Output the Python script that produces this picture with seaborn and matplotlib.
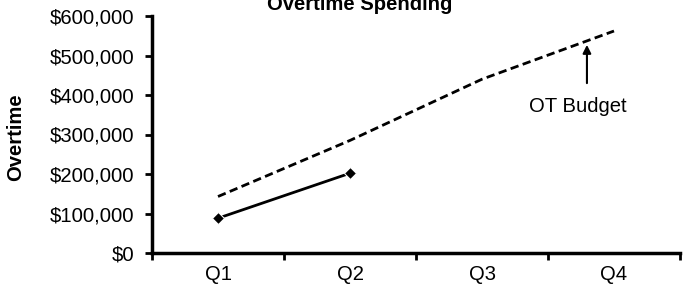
import matplotlib
matplotlib.use("Agg")
import matplotlib.pyplot as plt
import matplotlib.ticker as mticker
import seaborn as sns
import pandas as pd

quarters = ["Q1", "Q2", "Q3", "Q4"]
budget = [143000, 285000, 440000, 562000]
actual_quarters = ["Q1", "Q2"]
actual = [88000, 202000]
title = "Overtime Spending"
ylabel = "Overtime"
annot = "OT Budget"

sns.set_theme(style="white")
plt.rcParams["font.family"] = ["Liberation Sans", "DejaVu Sans"]
plt.rcParams["text.color"] = "black"
plt.rcParams["xtick.color"] = "black"
plt.rcParams["ytick.color"] = "black"
plt.rcParams["axes.labelcolor"] = "black"

FS = 14.6

fig = plt.figure(figsize=(6.89, 2.89), dpi=100)
ax = fig.add_axes([152/689, 1-253/289, 528/689, 237/289])

df_b = pd.DataFrame({"q": quarters, "v": budget})
df_a = pd.DataFrame({"q": actual_quarters, "v": actual})

sns.lineplot(data=df_b, x="q", y="v", ax=ax, color="black", linewidth=2,
             linestyle=(0, (3, 1.6)), sort=False)
sns.lineplot(data=df_a, x="q", y="v", ax=ax, color="black", linewidth=2,
             marker="D", markersize=6, sort=False)

ax.set_xlim(-0.5, 3.5)
ax.set_ylim(0, 600000)
ax.yaxis.set_major_locator(mticker.MultipleLocator(100000))
ax.yaxis.set_major_formatter(mticker.FuncFormatter(lambda v, p: f"${v:,.0f}"))

ax.set_xticks([-0.5, 0.5, 1.5, 2.5, 3.5])
ax.set_xticklabels([])
ax.set_xticks(range(len(quarters)), minor=True)
ax.set_xticklabels(quarters, minor=True)
ax.tick_params(axis="x", which="minor", length=0, pad=9, labelsize=FS, labelcolor="black")
ax.tick_params(axis="x", which="major", length=5, width=2, direction="out", color="black")
ax.tick_params(axis="y", length=5, width=2, direction="out", pad=8, labelsize=FS,
               color="black", labelcolor="black")
ax.tick_params(bottom=True, left=True)

for s in ["top", "right"]:
    ax.spines[s].set_visible(False)
for s in ["left", "bottom"]:
    ax.spines[s].set_linewidth(2.5)
    ax.spines[s].set_color("black")

ax.set_xlabel("")
ax.set_ylabel(ylabel, fontsize=FS, fontweight="bold", color="black")
ax.yaxis.set_label_coords(-0.2405, 0.49)

ax.annotate("", xy=(2.795, 534000), xytext=(2.795, 423000),
            arrowprops=dict(arrowstyle="-|>", color="black", lw=1.5, mutation_scale=12))
ax.text(2.727, 370000, annot, ha="center", va="center", fontsize=FS, color="black")

fig.text(360/689, 1-10/289, title, ha="center", va="baseline", fontsize=FS,
         fontweight="bold", color="black")

fig.savefig("out.png", dpi=100)
